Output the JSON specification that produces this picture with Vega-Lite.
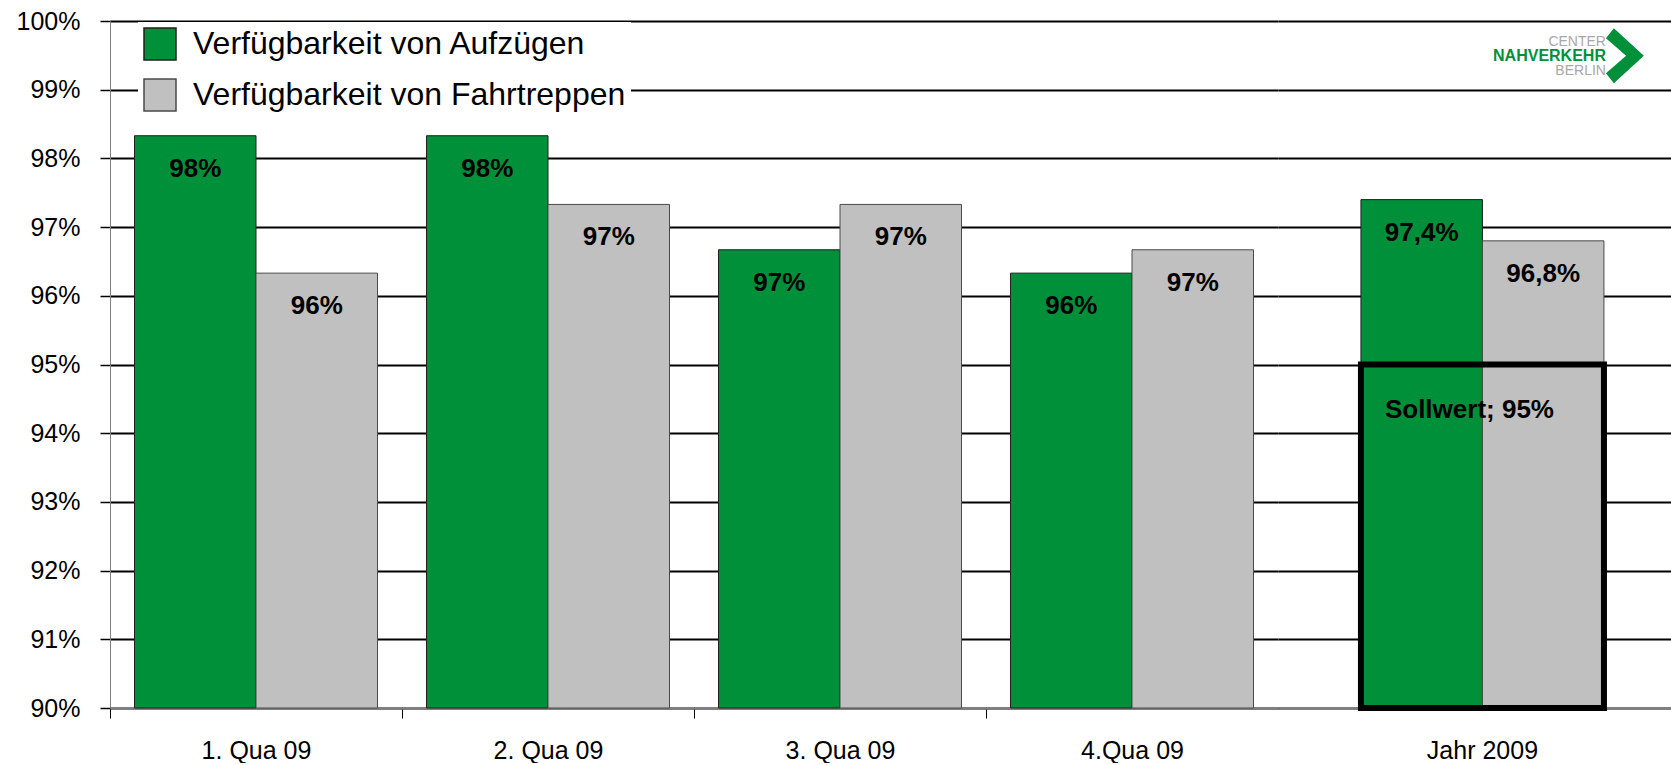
{
  "$schema": "https://vega.github.io/schema/vega-lite/v6.json",
  "background": "white",
  "autosize": {"type": "pad"},
  "padding": {"left": 16, "top": 9, "right": 0, "bottom": 0},
  "spacing": 0,
  "config": {
    "font": "Liberation Sans",
    "view": {"stroke": null},
    "concat": {"spacing": 0},
    "locale": {
      "number": {"decimal": ",", "thousands": ".", "grouping": [3], "currency": ["", " €"]}
    }
  },
  "datasets": {
    "quartale": [
      {"kategorie": "1. Qua 09", "serie": "Verfügbarkeit von Aufzügen", "wert": 0.9833},
      {"kategorie": "1. Qua 09", "serie": "Verfügbarkeit von Fahrtreppen", "wert": 0.9633},
      {"kategorie": "2. Qua 09", "serie": "Verfügbarkeit von Aufzügen", "wert": 0.9833},
      {"kategorie": "2. Qua 09", "serie": "Verfügbarkeit von Fahrtreppen", "wert": 0.9733},
      {"kategorie": "3. Qua 09", "serie": "Verfügbarkeit von Aufzügen", "wert": 0.9667},
      {"kategorie": "3. Qua 09", "serie": "Verfügbarkeit von Fahrtreppen", "wert": 0.9733},
      {"kategorie": "4.Qua 09", "serie": "Verfügbarkeit von Aufzügen", "wert": 0.9633},
      {"kategorie": "4.Qua 09", "serie": "Verfügbarkeit von Fahrtreppen", "wert": 0.9667}
    ],
    "jahr": [
      {"kategorie": "Jahr 2009", "serie": "Verfügbarkeit von Aufzügen", "wert": 0.974},
      {"kategorie": "Jahr 2009", "serie": "Verfügbarkeit von Fahrtreppen", "wert": 0.968}
    ],
    "sollwert": [
      {"kategorie": "Jahr 2009", "wert": 0.95, "beschriftung": "Sollwert; 95%"}
    ],
    "logo": [
      {"kategorie": "Jahr 2009", "wert": 1}
    ]
  },
  "resolve": {
    "scale": {"x": "independent", "y": "shared", "color": "independent", "stroke": "independent"},
    "legend": {"color": "independent"}
  },
  "hconcat": [
    {
      "width": 1168,
      "height": 687,
      "data": {"name": "quartale"},
      "encoding": {
        "x": {
          "field": "kategorie",
          "type": "nominal",
          "sort": null,
          "scale": {"paddingInner": 0.1678, "paddingOuter": 0.0839},
          "axis": {
            "title": null,
            "labelAngle": 0,
            "labelFontSize": 25,
            "labelColor": "#000",
            "labelPadding": 20,
            "tickSize": 10,
            "tickColor": "#000",
            "tickWidth": 1,
            "bandPosition": 0,
            "tickOffset": -24.5,
            "labelOffset": 24.5,
            "domainColor": "#808080",
            "domainWidth": 2
          }
        },
        "y": {
          "field": "wert",
          "type": "quantitative",
          "scale": {"domain": [0.9, 1], "zero": false, "nice": false},
          "axis": {
            "title": null,
            "values": [0.9, 0.91, 0.92, 0.93, 0.94, 0.95, 0.96, 0.97, 0.98, 0.99, 1],
            "format": ".0%",
            "labelFontSize": 25,
            "labelColor": "#000",
            "labelPadding": 20,
            "labelFlush": false,
            "tickSize": 10,
            "tickColor": "#000",
            "tickWidth": 1.5,
            "domainColor": "#808080",
            "domainWidth": 1,
            "grid": true,
            "gridColor": "#000",
            "gridWidth": 1.8
          }
        }
      },
      "layer": [
        {
          "mark": {"type": "bar", "strokeWidth": 1},
          "encoding": {
            "xOffset": {
              "field": "serie",
              "type": "nominal",
              "sort": ["Verfügbarkeit von Aufzügen", "Verfügbarkeit von Fahrtreppen"],
              "scale": {"paddingInner": 0, "paddingOuter": 0}
            },
            "y2": {"datum": 0.9},
            "color": {
              "field": "serie",
              "type": "nominal",
              "scale": {
                "domain": ["Verfügbarkeit von Aufzügen", "Verfügbarkeit von Fahrtreppen"],
                "range": ["#00903A", "#C0C0C0"]
              },
              "legend": {
                "orient": "none",
                "legendX": 28,
                "legendY": 1,
                "title": null,
                "symbolType": "square",
                "symbolSize": 1024,
                "symbolStrokeColor": "#2b2b2b",
                "symbolStrokeWidth": 1.5,
                "labelFontSize": 32,
                "labelColor": "#000",
                "labelOffset": 16,
                "labelLimit": 0,
                "rowPadding": 13,
                "padding": 5,
                "fillColor": "white"
              }
            },
            "stroke": {
              "field": "serie",
              "type": "nominal",
              "scale": {
                "domain": ["Verfügbarkeit von Aufzügen", "Verfügbarkeit von Fahrtreppen"],
                "range": ["#1f1f1f", "#4a4a4a"]
              },
              "legend": null
            }
          }
        },
        {
          "mark": {"type": "text", "fontWeight": "bold", "fontSize": 26, "color": "#000", "baseline": "alphabetic", "dy": 41},
          "encoding": {
            "xOffset": {
              "field": "serie",
              "type": "nominal",
              "sort": ["Verfügbarkeit von Aufzügen", "Verfügbarkeit von Fahrtreppen"],
              "scale": {"paddingInner": 0, "paddingOuter": 0}
            },
            "text": {"field": "wert", "type": "quantitative", "format": ".0%"}
          }
        }
      ]
    },
    {
      "width": 393,
      "height": 687,
      "encoding": {
        "x": {
          "field": "kategorie",
          "type": "nominal",
          "scale": {"domain": ["Jahr 2009"], "paddingInner": 0, "paddingOuter": 0.3086, "align": 0.553},
          "axis": {
            "title": null,
            "labelAngle": 0,
            "labelFontSize": 25,
            "labelColor": "#000",
            "labelPadding": 30,
            "ticks": false,
            "domainColor": "#808080",
            "domainWidth": 2
          }
        },
        "y": {
          "field": "wert",
          "type": "quantitative",
          "scale": {"domain": [0.9, 1], "zero": false, "nice": false},
          "axis": {
            "title": null,
            "values": [0.9, 0.91, 0.92, 0.93, 0.94, 0.95, 0.96, 0.97, 0.98, 0.99, 1],
            "labels": false,
            "ticks": false,
            "domain": false,
            "grid": true,
            "gridColor": "#000",
            "gridWidth": 1.8
          }
        }
      },
      "layer": [
        {
          "data": {"name": "jahr"},
          "mark": {"type": "bar", "strokeWidth": 1},
          "encoding": {
            "xOffset": {
              "field": "serie",
              "type": "nominal",
              "sort": ["Verfügbarkeit von Aufzügen", "Verfügbarkeit von Fahrtreppen"],
              "scale": {"paddingInner": 0, "paddingOuter": 0}
            },
            "y2": {"datum": 0.9},
            "color": {
              "field": "serie",
              "type": "nominal",
              "scale": {
                "domain": ["Verfügbarkeit von Aufzügen", "Verfügbarkeit von Fahrtreppen"],
                "range": ["#00903A", "#C0C0C0"]
              },
              "legend": null
            },
            "stroke": {
              "field": "serie",
              "type": "nominal",
              "scale": {
                "domain": ["Verfügbarkeit von Aufzügen", "Verfügbarkeit von Fahrtreppen"],
                "range": ["#1f1f1f", "#4a4a4a"]
              },
              "legend": null
            }
          }
        },
        {
          "data": {"name": "jahr"},
          "mark": {"type": "text", "fontWeight": "bold", "fontSize": 26, "color": "#000", "baseline": "alphabetic", "dy": 41},
          "encoding": {
            "xOffset": {
              "field": "serie",
              "type": "nominal",
              "sort": ["Verfügbarkeit von Aufzügen", "Verfügbarkeit von Fahrtreppen"],
              "scale": {"paddingInner": 0, "paddingOuter": 0}
            },
            "text": {"field": "wert", "type": "quantitative", "format": ".1%"}
          }
        },
        {
          "data": {"name": "sollwert"},
          "mark": {"type": "rect", "fillOpacity": 0, "stroke": "#000", "strokeWidth": 6},
          "encoding": {
            "y2": {"datum": 0.9}
          }
        },
        {
          "data": {"name": "sollwert"},
          "mark": {"type": "text", "fontWeight": "bold", "fontSize": 26, "color": "#000", "align": "center", "baseline": "alphabetic", "dx": -13, "dy": 53.5},
          "encoding": {
            "text": {"field": "beschriftung", "type": "nominal"}
          }
        },
        {
          "data": {"name": "logo"},
          "mark": {"type": "text", "align": "right", "baseline": "alphabetic", "dx": 123.5, "dy": 24.5, "fontSize": 14, "color": "#A8A8A8"},
          "encoding": {"text": {"value": "CENTER"}}
        },
        {
          "data": {"name": "logo"},
          "mark": {"type": "text", "align": "right", "baseline": "alphabetic", "dx": 123.5, "dy": 39.5, "fontSize": 16, "fontWeight": "bold", "color": "#00903A"},
          "encoding": {"text": {"value": "NAHVERKEHR"}}
        },
        {
          "data": {"name": "logo"},
          "mark": {"type": "text", "align": "right", "baseline": "alphabetic", "dx": 123.5, "dy": 54, "fontSize": 14, "color": "#A8A8A8"},
          "encoding": {"text": {"value": "BERLIN"}}
        },
        {
          "data": {"name": "logo"},
          "mark": {
            "type": "point",
            "filled": true,
            "color": "#00903A",
            "opacity": 1,
            "size": 2809,
            "shape": "M4.66,0.653 L4.96,0.275 L6.09,1.313 L4.96,2.351 L4.66,1.974 L5.42,1.313 Z"
          }
        }
      ]
    }
  ]
}
